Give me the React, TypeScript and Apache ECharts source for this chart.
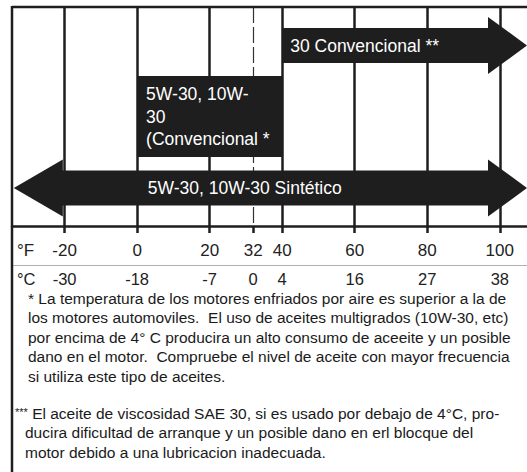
import React, { useEffect, useRef } from "react";
import * as echarts from "echarts";

// ---- data (temperatures in °F) ----
const oilGrades = [
  "30 Convencional **",
  "5W-30, 10W-\n30\n(Convencional *",
  "5W-30, 10W-30 Sintético",
];
const rangeFromF = [40, 0, -34];
const rangeToF = [107.5, 40, 107.5];
const arrowAtLow = [false, false, true];
const arrowAtHigh = [true, false, true];

const gridLinesF = [-20, 0, 20, 40, 60, 80, 100];
const freezingF = 32;
const tickValuesF = [-20, 0, 20, 32, 40, 60, 80, 100];
const tickLabelsC = [-30, -18, -7, 0, 4, 16, 27, 38];

const footnote1Mark = "*";
const footnote1 = [
  "La temperatura de los motores enfriados por aire es superior a la de",
  "los motores automoviles.  El uso de aceites multigrados (10W-30, etc)",
  "por encima de 4° C producira un alto consumo de aceeite y un posible",
  "dano en el motor.  Compruebe el nivel de aceite con mayor frecuencia",
  "si utiliza este tipo de aceites.",
];
const footnote2Mark = "***";
const footnote2 = [
  "El aceite de viscosidad SAE 30, si es usado por debajo de 4°C, pro-",
  "ducira dificultad de arranque y un posible dano en erl blocque del",
  "motor debido a una lubricacion inadecuada.",
];

// ---- styling / layout (not data) ----
const FONT = "'Liberation Sans', Arial, Helvetica, sans-serif";
const INK = "#1e1e1e";
const ROW_STYLE = [
  { band: 35, head: 57, headLow: 0, headHigh: 39, labelDx: 8, dy: 2 },
  { band: 81, head: 81, headLow: 0, headHigh: 0, labelDx: 9, dy: 0 },
  { band: 35, head: 57, headLow: 49, headHigh: 39, labelDx: 134, dy: -1.5 },
];
const X_MIN = -34.5;
const X_MAX = 107.5;
const FOOT_SIZE = 15.5;
const FOOT_STEP = 19.6;

export default function App() {
  const ref = useRef<HTMLDivElement>(null);

  useEffect(() => {
    if (!ref.current) return;
    const chart = echarts.init(ref.current, undefined, { renderer: "svg" });

    const arrowData = oilGrades.map((name, i) => ({
      name,
      value: [rangeFromF[i], rangeToF[i], i],
    }));

    const renderItem = (params: any, api: any) => {
      const i = params.dataIndex;
      const st = ROW_STYLE[i];
      const from = api.value(0);
      const to = api.value(1);
      const row = api.value(2);
      const p0 = api.coord([from, row]);
      const p1 = api.coord([to, row]);
      const x0 = p0[0];
      const x1 = p1[0];
      const yc = p0[1] + st.dy;
      const h = st.band / 2;
      const hh = st.head / 2;
      const pts: number[][] = [];
      if (arrowAtLow[i]) {
        pts.push([x0, yc], [x0 + st.headLow, yc - hh], [x0 + st.headLow, yc - h]);
      } else {
        pts.push([x0, yc - h]);
      }
      if (arrowAtHigh[i]) {
        pts.push(
          [x1 - st.headHigh, yc - h],
          [x1 - st.headHigh, yc - hh],
          [x1, yc],
          [x1 - st.headHigh, yc + hh],
          [x1 - st.headHigh, yc + h]
        );
      } else {
        pts.push([x1, yc - h], [x1, yc + h]);
      }
      if (arrowAtLow[i]) {
        pts.push([x0 + st.headLow, yc + h], [x0 + st.headLow, yc + hh]);
      } else {
        pts.push([x0, yc + h]);
      }
      return {
        type: "group",
        children: [
          {
            type: "polygon",
            shape: { points: pts },
            style: { fill: INK },
          },
          {
            type: "text",
            x: x0 + st.labelDx,
            y: yc,
            style: {
              text: oilGrades[i],
              fill: "#ffffff",
              font: `17.5px ${FONT}`,
              align: "left",
              verticalAlign: "middle",
              lineHeight: 22.5,
            },
          },
        ],
      };
    };

    const gridLineData: any[] = gridLinesF.map((v) => ({ xAxis: v }));
    gridLineData.push({
      xAxis: freezingF,
      lineStyle: { type: [16, 4], width: 1.2, color: "#333" },
    });

    const footRich = {
      m: { fontSize: 11, fontFamily: FONT, fill: "#1a1a1a", lineHeight: 14, verticalAlign: "top" },
      t: { fontSize: FOOT_SIZE, fontFamily: FONT, fill: "#1a1a1a", lineHeight: 14 },
    };
    const footLine = (x: number, y: number, text: string) => ({
      type: "text",
      x,
      y,
      style: {
        text,
        font: `${FOOT_SIZE}px ${FONT}`,
        fill: "#1a1a1a",
        lineHeight: 14,
        verticalAlign: "middle",
        align: "left",
        rich: footRich,
      },
    });
    const footnoteGraphics: any[] = [];
    footnote1.forEach((line, k) => {
      const txt = k === 0 ? `{t|${footnote1Mark} ${line}}` : `{t|${line}}`;
      footnoteGraphics.push(footLine(28, 298 + k * FOOT_STEP, txt));
    });
    footnote2.forEach((line, k) => {
      const txt = k === 0 ? `{m|${footnote2Mark}}{t| ${line}}` : `{t|${line}}`;
      footnoteGraphics.push(footLine(k === 0 ? 15 : 25, 413 + k * FOOT_STEP, txt));
    });

    chart.setOption({
      animation: false,
      backgroundColor: "#ffffff",
      grid: { left: 12, top: 7, right: 0, height: 219 },
      xAxis: [
        {
          type: "value",
          min: X_MIN,
          max: X_MAX,
          position: "bottom",
          splitLine: { show: false },
          axisLine: { show: true, lineStyle: { color: INK, width: 2.5 } },
          axisTick: {
            show: true,
            customValues: tickValuesF,
            length: 7,
            lineStyle: { color: INK, width: 2.5 },
          },
          axisLabel: {
            customValues: tickValuesF,
            formatter: (v: number) => String(v),
            margin: 17,
            fontSize: 17,
            lineHeight: 14,
            fontFamily: FONT,
            color: "#222",
          },
        },
        {
          type: "value",
          min: X_MIN,
          max: X_MAX,
          position: "bottom",
          offset: 39,
          splitLine: { show: false },
          axisLine: { show: true, lineStyle: { color: "#b0b0b0", width: 1 } },
          axisTick: { show: false },
          axisLabel: {
            customValues: tickValuesF,
            formatter: (v: number) => {
              const k = tickValuesF.indexOf(v);
              return k >= 0 ? String(tickLabelsC[k]) : "";
            },
            margin: 7,
            fontSize: 16.5,
            lineHeight: 14,
            fontFamily: FONT,
            color: "#222",
          },
        },
      ],
      yAxis: {
        type: "category",
        data: oilGrades,
        inverse: true,
        axisLine: { show: false },
        axisTick: { show: false },
        axisLabel: { show: false },
        splitLine: { show: false },
      },
      series: [
        {
          type: "line",
          data: [],
          z: 1,
          silent: true,
          markLine: {
            z: 1,
            silent: true,
            symbol: ["none", "none"],
            label: { show: false },
            lineStyle: { color: INK, width: 2.5, type: "solid" },
            data: gridLineData,
          },
        },
        {
          type: "custom",
          z: 3,
          renderItem,
          encode: { x: [0, 1], y: 2 },
          data: arrowData,
          clip: false,
        },
      ],
      graphic: [
        {
          type: "line",
          shape: { x1: 12, y1: 7, x2: 527, y2: 7 },
          style: { stroke: INK, lineWidth: 2.5 },
          z: 10,
        },
        {
          type: "line",
          shape: { x1: 12, y1: 6, x2: 12, y2: 472 },
          style: { stroke: INK, lineWidth: 2.5 },
          z: 10,
        },
        {
          type: "text",
          x: 17,
          y: 250,
          style: { text: "°F", font: `17px ${FONT}`, fill: "#222", verticalAlign: "middle", lineHeight: 14 },
        },
        {
          type: "text",
          x: 17,
          y: 279,
          style: { text: "°C", font: `16.5px ${FONT}`, fill: "#222", verticalAlign: "middle", lineHeight: 14 },
        },
        ...footnoteGraphics,
      ],
    });

    return () => chart.dispose();
  }, []);

  return (
    <div
      style={{
        position: "fixed",
        left: 0,
        top: 0,
        width: 527,
        height: 472,
        overflow: "hidden",
        background: "#fff",
      }}
    >
      <div ref={ref} style={{ width: 527, height: 472 }} />
    </div>
  );
}
